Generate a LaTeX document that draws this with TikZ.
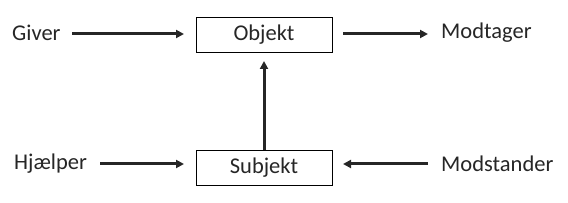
\documentclass[tikz,border=0pt]{standalone}
\usepackage{fontspec}
\setmainfont{Carlito}
\usetikzlibrary{arrows.meta}
\begin{document}
\begin{tikzpicture}[x=1pt,y=-1pt,
  lbl/.style={inner sep=0pt,font=\fontsize{22.5}{24}\selectfont,text=black!85},
  boxnode/.style={draw,line width=0.8pt,minimum width=136pt,minimum height=35pt,inner sep=0pt,font=\fontsize{22.5}{24}\selectfont,text=black!85},
  arr/.style={line width=3pt,draw=black!85,-{Triangle[length=8pt,width=8pt]}}]
\useasboundingbox (0,0) rectangle (568,203);
\node[boxnode] (obj) at (264,34.5) {Objekt};
\node[boxnode] (sub) at (264,168) {Subjekt};
\node[lbl,anchor=west] (giv) at (12,33) {Giver};
\node[lbl,anchor=west] (mod) at (441,33) {Modtager};
\node[lbl,anchor=west] (hj) at (14,164) {Hjælper};
\node[lbl,anchor=west] (ms) at (441,164) {Modstander};
\coordinate (a1) at (72,34);
\coordinate (a2) at (184,34);
\coordinate (b1) at (343,34);
\coordinate (b2) at (428,34);
\coordinate (c1) at (100,164);
\coordinate (c2) at (184,164);
\coordinate (d1) at (428,164);
\coordinate (d2) at (343,164);
\coordinate (vtip) at (264,61);
\draw[arr] (a1) -- (a2);
\draw[arr] (b1) -- (b2);
\draw[arr] (c1) -- (c2);
\draw[arr] (d1) -- (d2);
\draw[arr] (sub.north) -- (vtip);
\end{tikzpicture}
\end{document}
